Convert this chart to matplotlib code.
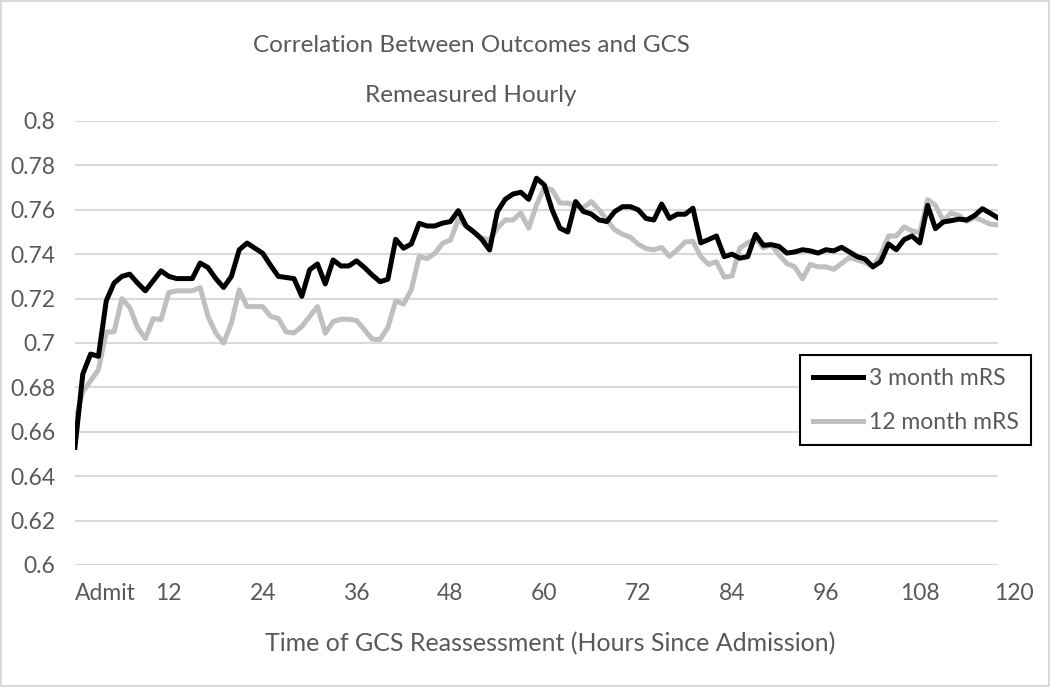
import matplotlib.pyplot as plt
from matplotlib.patches import Rectangle

# hours since admission (0 = Admit)
hours = list(range(0, 119))

mrs_3month = [
    0.653, 0.686, 0.695, 0.694, 0.719, 0.727, 0.730, 0.731, 0.727, 0.7235,
    0.728, 0.7325, 0.730, 0.729, 0.729, 0.729, 0.736, 0.734, 0.729, 0.725,
    0.730, 0.742, 0.745, 0.7427, 0.7404, 0.735, 0.730, 0.7295, 0.729, 0.721,
    0.733, 0.7356, 0.7266, 0.7374, 0.7347, 0.7347, 0.737, 0.734, 0.7306, 0.7276,
    0.7287, 0.7467, 0.7427, 0.7446, 0.7539, 0.7527, 0.7527, 0.754, 0.7547, 0.7596,
    0.7527, 0.750, 0.7467, 0.7419, 0.7592, 0.7647, 0.7671, 0.7679, 0.7647, 0.7742,
    0.7712, 0.760, 0.7517, 0.750, 0.7637, 0.7592, 0.7581, 0.7554, 0.7547, 0.7592,
    0.7614, 0.7614, 0.760, 0.7561, 0.7554, 0.7626, 0.7561, 0.758, 0.758, 0.7607,
    0.7451, 0.7466, 0.7482, 0.7389, 0.740, 0.7382, 0.7389, 0.7489, 0.744, 0.7443,
    0.7435, 0.7405, 0.741, 0.742, 0.7415, 0.7405, 0.742, 0.7415, 0.7431, 0.741,
    0.7389, 0.7378, 0.7343, 0.7366, 0.7446, 0.742, 0.7466, 0.7482, 0.7451, 0.762,
    0.7515, 0.7545, 0.7551, 0.7558, 0.7554, 0.7574, 0.7605, 0.7585, 0.7563,
]

mrs_12month = [
    0.6645, 0.678, 0.683, 0.688, 0.705, 0.705, 0.720, 0.716, 0.707, 0.702,
    0.711, 0.7105, 0.7227, 0.7235, 0.7235, 0.7235, 0.725, 0.712, 0.7045, 0.700,
    0.709, 0.7239, 0.7164, 0.7164, 0.7164, 0.712, 0.711, 0.705, 0.7045, 0.7074,
    0.712, 0.7164, 0.7044, 0.7096, 0.7107, 0.7107, 0.7101, 0.706, 0.7017, 0.7016,
    0.707, 0.719, 0.7175, 0.724, 0.739, 0.738, 0.7404, 0.7449, 0.7464, 0.7555,
    0.7527, 0.750, 0.7473, 0.7464, 0.7517, 0.7554, 0.7554, 0.7586, 0.7517, 0.7622,
    0.770, 0.769, 0.763, 0.763, 0.762, 0.761, 0.7637, 0.760, 0.7554, 0.751,
    0.749, 0.7476, 0.7445, 0.7425, 0.742, 0.743, 0.739, 0.742, 0.7455, 0.7458,
    0.7389, 0.7354, 0.7366, 0.7297, 0.7302, 0.7428, 0.7451, 0.7471, 0.7428, 0.7443,
    0.7397, 0.7358, 0.7343, 0.7289, 0.7354, 0.7343, 0.7343, 0.7332, 0.7358, 0.7385,
    0.7374, 0.7363, 0.7343, 0.7397, 0.7482, 0.7482, 0.7523, 0.7505, 0.7497, 0.7646,
    0.762, 0.7551, 0.7585, 0.7574, 0.7548, 0.7566, 0.7551, 0.7535, 0.7532,
]

x_ticks = [0, 12, 24, 36, 48, 60, 72, 84, 96, 108]
x_labels = ['Admit', '12', '24', '36', '48', '60', '72', '84', '96', '108']
y_ticks = [0.6, 0.62, 0.64, 0.66, 0.68, 0.7, 0.72, 0.74, 0.76, 0.78, 0.8]
y_labels = ['0.6', '0.62', '0.64', '0.66', '0.68', '0.7', '0.72', '0.74', '0.76', '0.78', '0.8']

plt.rcParams['font.family'] = ['Lato', 'DejaVu Sans']
txt = '#595959'

fig = plt.figure(figsize=(10.5, 6.87), dpi=100)
ax = fig.add_axes([0.0714, 0.1776, 0.8791, 0.6463])

ax.plot(hours, mrs_12month, color='#BFBFBF', linewidth=3.6, label='12 month mRS',
        solid_joinstyle='round', zorder=3)
ax.plot(hours, mrs_3month, color='black', linewidth=3.6, label='3 month mRS',
        solid_joinstyle='round', zorder=4)

ax.set_xlim(0, 118)
ax.set_ylim(0.6, 0.8)
ax.set_yticks(y_ticks)
ax.set_yticklabels(y_labels)
ax.set_xticks(x_ticks)
ax.set_xticklabels(x_labels)
ax.get_xticklabels()[0].set_horizontalalignment('left')
ax.text(120, -0.04, '120', transform=ax.get_xaxis_transform(), ha='center', va='top',
        fontsize=16.5, color=txt)

ax.tick_params(axis='both', length=0, labelsize=16.5, colors=txt)
ax.tick_params(axis='x', pad=13)
ax.tick_params(axis='y', pad=14)
ax.grid(axis='y', color='#D9D9D9', linewidth=1.5)
ax.set_axisbelow(True)
for s in ax.spines.values():
    s.set_visible(False)

ax.set_xlabel('Time of GCS Reassessment (Hours Since Admission)', fontsize=18,
              color=txt, labelpad=20)
ax.xaxis.label.set_x(0.515)

fig.text(471 / 1050, 1 - 45 / 687, 'Correlation Between Outcomes and GCS', ha='center',
         va='center', fontsize=17.5, color=txt)
fig.text(471 / 1050, 1 - 95 / 687, 'Remeasured Hourly', ha='center', va='center',
         fontsize=17.5, color=txt)

handles, labels = ax.get_legend_handles_labels()
leg = fig.legend(handles[::-1], labels[::-1], loc='upper left',
                 bbox_to_anchor=(800 / 1050, 1 - 355 / 687), borderaxespad=0,
                 fontsize=16.5, frameon=True, fancybox=False, edgecolor='black',
                 framealpha=1, handlelength=2.2, handletextpad=0.25,
                 labelspacing=1.0, borderpad=0.55, labelcolor=txt)
leg.get_frame().set_linewidth(1.5)

fig.patches.append(Rectangle((0.001, 0.001), 0.998, 0.998, transform=fig.transFigure,
                             fill=False, edgecolor='#D9D9D9', linewidth=1.5))

fig.savefig('out.png', dpi=100)
